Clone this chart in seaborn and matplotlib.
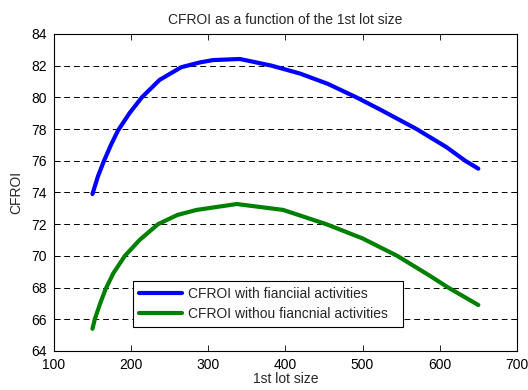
import numpy as np
import pandas as pd
import seaborn as sns
import matplotlib.pyplot as plt

sns.set_style('white')
plt.rcParams['font.family'] = ['Liberation Sans', 'DejaVu Sans']
plt.rcParams['font.size'] = 10

# values
lot_com = [150, 157, 165, 174, 183, 198, 214, 237, 265, 289, 306, 341, 382, 419, 455, 492, 522, 570, 609, 633, 650]
cfroi_com = [73.9, 75.0, 76.0, 77.0, 77.9, 79.0, 80.0, 81.1, 81.9, 82.2, 82.35, 82.42, 82.0, 81.5,
             80.85, 80.0, 79.25, 78.0, 76.85, 76.0, 75.5]

lot_sem = [150, 153, 160, 167, 177, 192, 211, 235, 260, 285, 337, 397, 453, 500, 545, 587, 611, 650]
cfroi_sem = [65.4, 66.0, 67.0, 67.9, 68.9, 70.0, 71.0, 72.0, 72.58, 72.9, 73.27, 72.9, 72.0, 71.1,
             70.0, 68.75, 68.0, 66.9]

rotulos = ['CFROI with fianciial activities', 'CFROI withou fiancnial activities']

fig = plt.figure(figsize=(5.28, 3.9), dpi=100)
ax = fig.add_axes([0.102, 0.1, 0.877, 0.813])

sns.lineplot(x=lot_com, y=cfroi_com, color=(0, 0, 1), linewidth=3, label=rotulos[0], ax=ax)
sns.lineplot(x=lot_sem, y=cfroi_sem, color=(0, 0.5, 0), linewidth=3, label=rotulos[1], ax=ax)
for ln in ax.lines:
    ln.set_solid_joinstyle('round')

ax.set_xlim(100, 700)
ax.set_ylim(64, 84)
ax.set_xticks(range(100, 701, 100))
ax.set_yticks(range(64, 85, 2))
ax.yaxis.grid(True, color='black', linestyle=(0, (6, 4)), linewidth=0.7)
ax.xaxis.grid(False)
for s in ax.spines.values():
    s.set_color('black')
    s.set_linewidth(0.8)
ax.tick_params(direction='in', length=4, width=0.6, top=True, right=True,
               bottom=True, left=True, colors='black', labelsize=10)
ax.tick_params(axis='x', pad=5)
ax.tick_params(axis='y', pad=5)

ax.set_title('CFROI as a function of the 1st lot size', fontsize=10, pad=7)
ax.set_xlabel('1st lot size', fontsize=10, labelpad=0)
ax.set_ylabel('CFROI', fontsize=10, labelpad=6)

leg = ax.legend(loc='lower left', bbox_to_anchor=(0.171, 0.077, 0.583, 0.145), mode='expand',
                fontsize=10, frameon=True, fancybox=False, framealpha=1, edgecolor='black',
                handlelength=3.1, borderpad=0.4, labelspacing=0.45, handletextpad=0.45,
                borderaxespad=0)
leg.get_frame().set_linewidth(0.8)

fig.savefig('out.png', dpi=100)
